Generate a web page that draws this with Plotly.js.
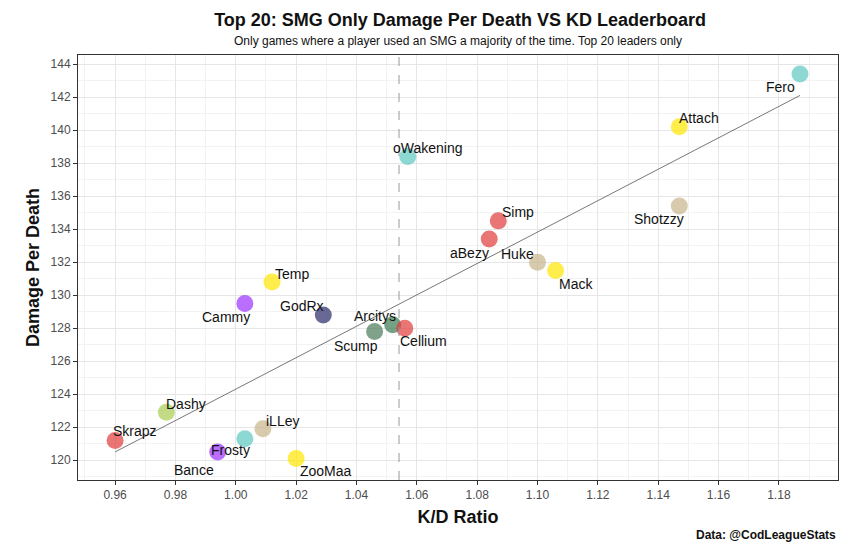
<!DOCTYPE html>
<html>
<head>
<meta charset="utf-8">
<script src="https://cdn.plot.ly/plotly-3.0.1.min.js"></script>
<style>body{margin:0;background:#fff}</style>
</head>
<body>
<div id="grafica" style="width:868px;height:550px"></div>
<script>
// Datos de jugadores (K/D y daño por muerte)
let jugadores = ['Fero','Attach','oWakening','Shotzzy','Simp','aBezy','Huke','Mack','Temp','Cammy',
  'GodRx','Arcitys','Scump','Cellium','Dashy','Skrapz','iLLey','Frosty','Bance','ZooMaa'];
let kd = [1.187,1.147,1.057,1.147,1.087,1.084,1.1,1.106,1.012,1.003,
  1.029,1.052,1.046,1.056,0.977,0.96,1.009,1.003,0.994,1.02];
let dano = [143.4,140.2,138.4,135.4,134.5,133.4,132.0,131.5,130.8,129.5,
  128.8,128.2,127.8,128.0,122.9,121.2,121.9,121.3,120.5,120.1];
let colores = ['#5cc8c0','#ffe600','#5cc8c0','#c8b48a','#e03a3a','#e03a3a','#c8b48a','#ffe600','#ffe600','#9b30ff',
  '#2a2a6a','#3a7a50','#4a7a5a','#e03a3a','#a8cc50','#e03a3a','#c8b48a','#5cc8c0','#9b30ff','#ffe600'];
// desplazamiento de etiquetas en px (estilo, no datos)
let dx = [-19,20,20,-20,20,-20,-20,20,20,-19,-21,-18,-19,19,20,20,20,-14,-24,30];
let dy = [13,-9,-9,13,-9,14,-8,14,-8,14,-9,-9,15,13,-8,-9,-8,11,18,12];

// Línea de tendencia y media de K/D
let tendencia_x = [0.96, 1.187];
let tendencia_y = [120.5, 142.1];
let media_kd = 1.0541;

let datos = [
  { x: tendencia_x, y: tendencia_y, mode: 'lines', line: {color: '#555', width: 0.8}, hoverinfo: 'skip' },
  { x: kd, y: dano, text: jugadores, mode: 'markers',
    marker: {size: 17, color: colores, opacity: 0.7} }
];

let etiquetas = jugadores.map((j, i) => ({
  text: j, x: kd[i], y: dano[i], xref: 'x', yref: 'y', showarrow: false,
  xshift: dx[i], yshift: -dy[i], font: {size: 14, color: '#111'}
}));

let eje = {
  showline: true, mirror: true, linecolor: '#333', linewidth: 1,
  gridcolor: '#e6e6e6', zeroline: false, ticks: 'outside', ticklen: 4, tickcolor: '#333',
  tickfont: {size: 12, color: '#4d4d4d'}
};

let layout = {
  width: 868, height: 550, showlegend: false,
  paper_bgcolor: '#fff', plot_bgcolor: '#fff',
  font: {family: 'Liberation Sans, Arial'},
  margin: {l: 78, r: 30, t: 55, b: 70},
  title: { text: '<b>Top 20: SMG Only Damage Per Death VS KD Leaderboard</b>', x: 0.53, y: 0.975,
    font: {size: 18, color: '#111'} },
  xaxis: Object.assign({}, eje, {
    range: [0.9477, 1.1996], dtick: 0.02, tick0: 0.96, tickformat: '.2f',
    minor: {dtick: 0.01, showgrid: true, gridcolor: '#f2f2f2'},
    title: {text: '<b>K/D Ratio</b>', font: {size: 18, color: '#111'}, standoff: 8}
  }),
  yaxis: Object.assign({}, eje, {
    range: [118.8, 144.55], dtick: 2,
    minor: {dtick: 1, showgrid: true, gridcolor: '#f2f2f2'},
    title: {text: '<b>Damage Per Death</b>', font: {size: 18, color: '#111'}, standoff: 6}
  }),
  shapes: [{ type: 'line', xref: 'x', yref: 'paper', x0: media_kd, x1: media_kd, y0: 0, y1: 1,
    line: {color: '#999', width: 1, dash: 'dash'} }],
  annotations: etiquetas.concat([
    { text: 'Only games where a player used an SMG a majority of the time. Top 20 leaders only',
      xref: 'paper', yref: 'paper', x: 0.5, y: 1.055, showarrow: false, font: {size: 12, color: '#111'} },
    { text: '<b>Data: @CodLeagueStats</b>', xref: 'paper', yref: 'paper', x: 1, y: -0.15,
      xanchor: 'right', showarrow: false, font: {size: 12, color: '#111'} }
  ])
};

Plotly.newPlot('grafica', datos, layout, {displayModeBar: false});
</script>
</body>
</html>
